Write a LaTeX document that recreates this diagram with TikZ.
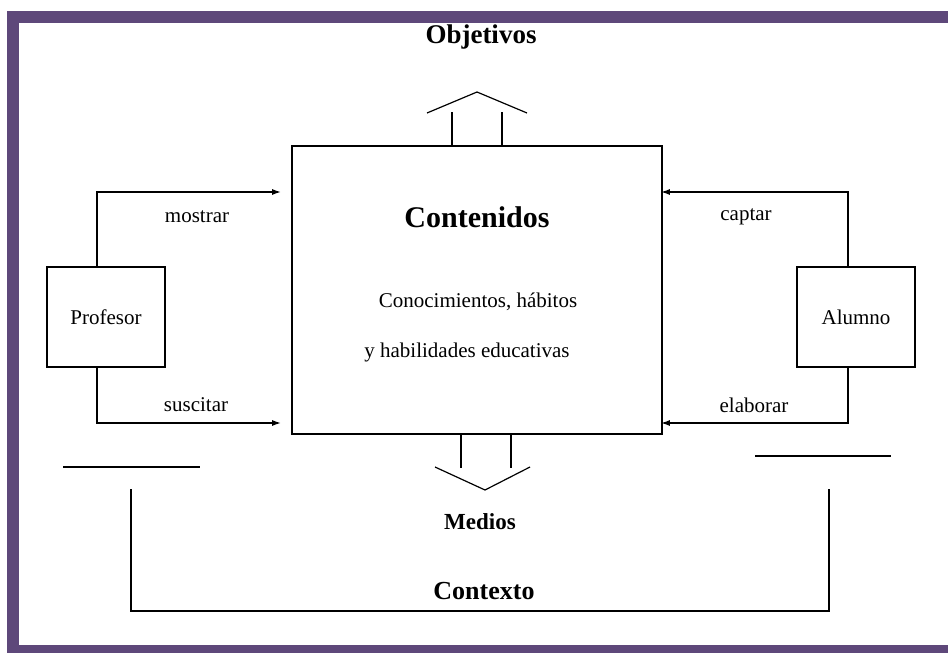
\documentclass[tikz,border=0pt]{standalone}
\usepackage{fontspec}
\setmainfont{Liberation Serif}
\usetikzlibrary{arrows.meta,calc}
\definecolor{frameviolet}{RGB}{94,72,122}
\begin{document}
\begin{tikzpicture}[x=1pt,y=-1pt,
  line/.style={draw=black,line width=1.6pt},
  thin line/.style={draw=black,line width=1.2pt},
  arr/.style={line,-{Latex[length=9pt,width=6pt]}},
  boxnode/.style={draw=black,line width=1.6pt,inner sep=0pt,font=\fontsize{21}{25}\selectfont},
  lbl/.style={inner sep=0pt,font=\fontsize{21}{25}\selectfont},
  bold lbl/.style={inner sep=0pt,font=\fontsize{24}{28}\selectfont\bfseries},
  frameband/.style={fill=frameviolet,draw=none}]
\useasboundingbox (0,0) rectangle (948,653);
\fill[white] (0,0) rectangle (948,653);
% frame
\path[frameband] (7,11) rectangle (19,653);
\path[frameband] (7,11) rectangle (948,23);
\path[frameband] (7,645) rectangle (948,653);
% main box
\node[boxnode,minimum width=370pt,minimum height=288pt] (cont) at (477,290) {};
\node[bold lbl,font=\fontsize{30}{34}\selectfont\bfseries] (conttitle) at (477,217) {Contenidos};
\node[lbl] (conoc) at (478,302) {Conocimientos, hábitos};
\node[lbl] (habil) at (467,352) {y habilidades educativas};
% side boxes
\node[boxnode,minimum width=118pt,minimum height=100pt] (prof) at (106,317) {Profesor};
\node[boxnode,minimum width=118pt,minimum height=100pt] (alum) at (856,317) {Alumno};
% helper coordinates
\coordinate (pl) at (97,0);
\coordinate (ar) at (848,0);
\coordinate (ytop) at (0,192);
\coordinate (ybot) at (0,423);
% connectors
\draw[arr,shorten >=10pt] (prof.north -| pl) |- (cont.west |- ytop);
\draw[arr,shorten >=10pt] (prof.south -| pl) |- (cont.west |- ybot);
\draw[arr,shorten >=-2pt] (alum.north -| ar) |- (cont.east |- ytop);
\draw[arr,shorten >=-2pt] (alum.south -| ar) |- (cont.east |- ybot);
\node[lbl] (mostrar) at (197,217) {mostrar};
\node[lbl] (suscitar) at (196,405) {suscitar};
\node[lbl] (captar) at (746,217) {captar};
\node[lbl] (elaborar) at (754,405) {elaborar};
% objetivos arrow
\draw[thin line] (cont.north -| 452,0) -- (452,112);
\draw[thin line] (cont.north -| 502,0) -- (502,112);
\draw[thin line] (427,113) -- (477,92) -- (527,113);
\node[bold lbl,font=\fontsize{27}{30}\selectfont\bfseries] (obj) at (481,37) {Objetivos};
% medios arrow
\draw[thin line] (cont.south -| 461,0) -- (461,468);
\draw[thin line] (cont.south -| 511,0) -- (511,468);
\draw[thin line] (435,467) -- (485,490) -- (530,467);
\node[bold lbl,font=\fontsize{23}{27}\selectfont\bfseries] (medios) at (480,522) {Medios};
% separators
\draw[line] (63,467) -- (200,467);
\draw[line] (755,456) -- (891,456);
% contexto bracket
\draw[line] (131,489) -- (131,611) -- (829,611) -- (829,489);
\node[bold lbl,font=\fontsize{26}{30}\selectfont\bfseries] (ctx) at (484,591) {Contexto};
\end{tikzpicture}
\end{document}
